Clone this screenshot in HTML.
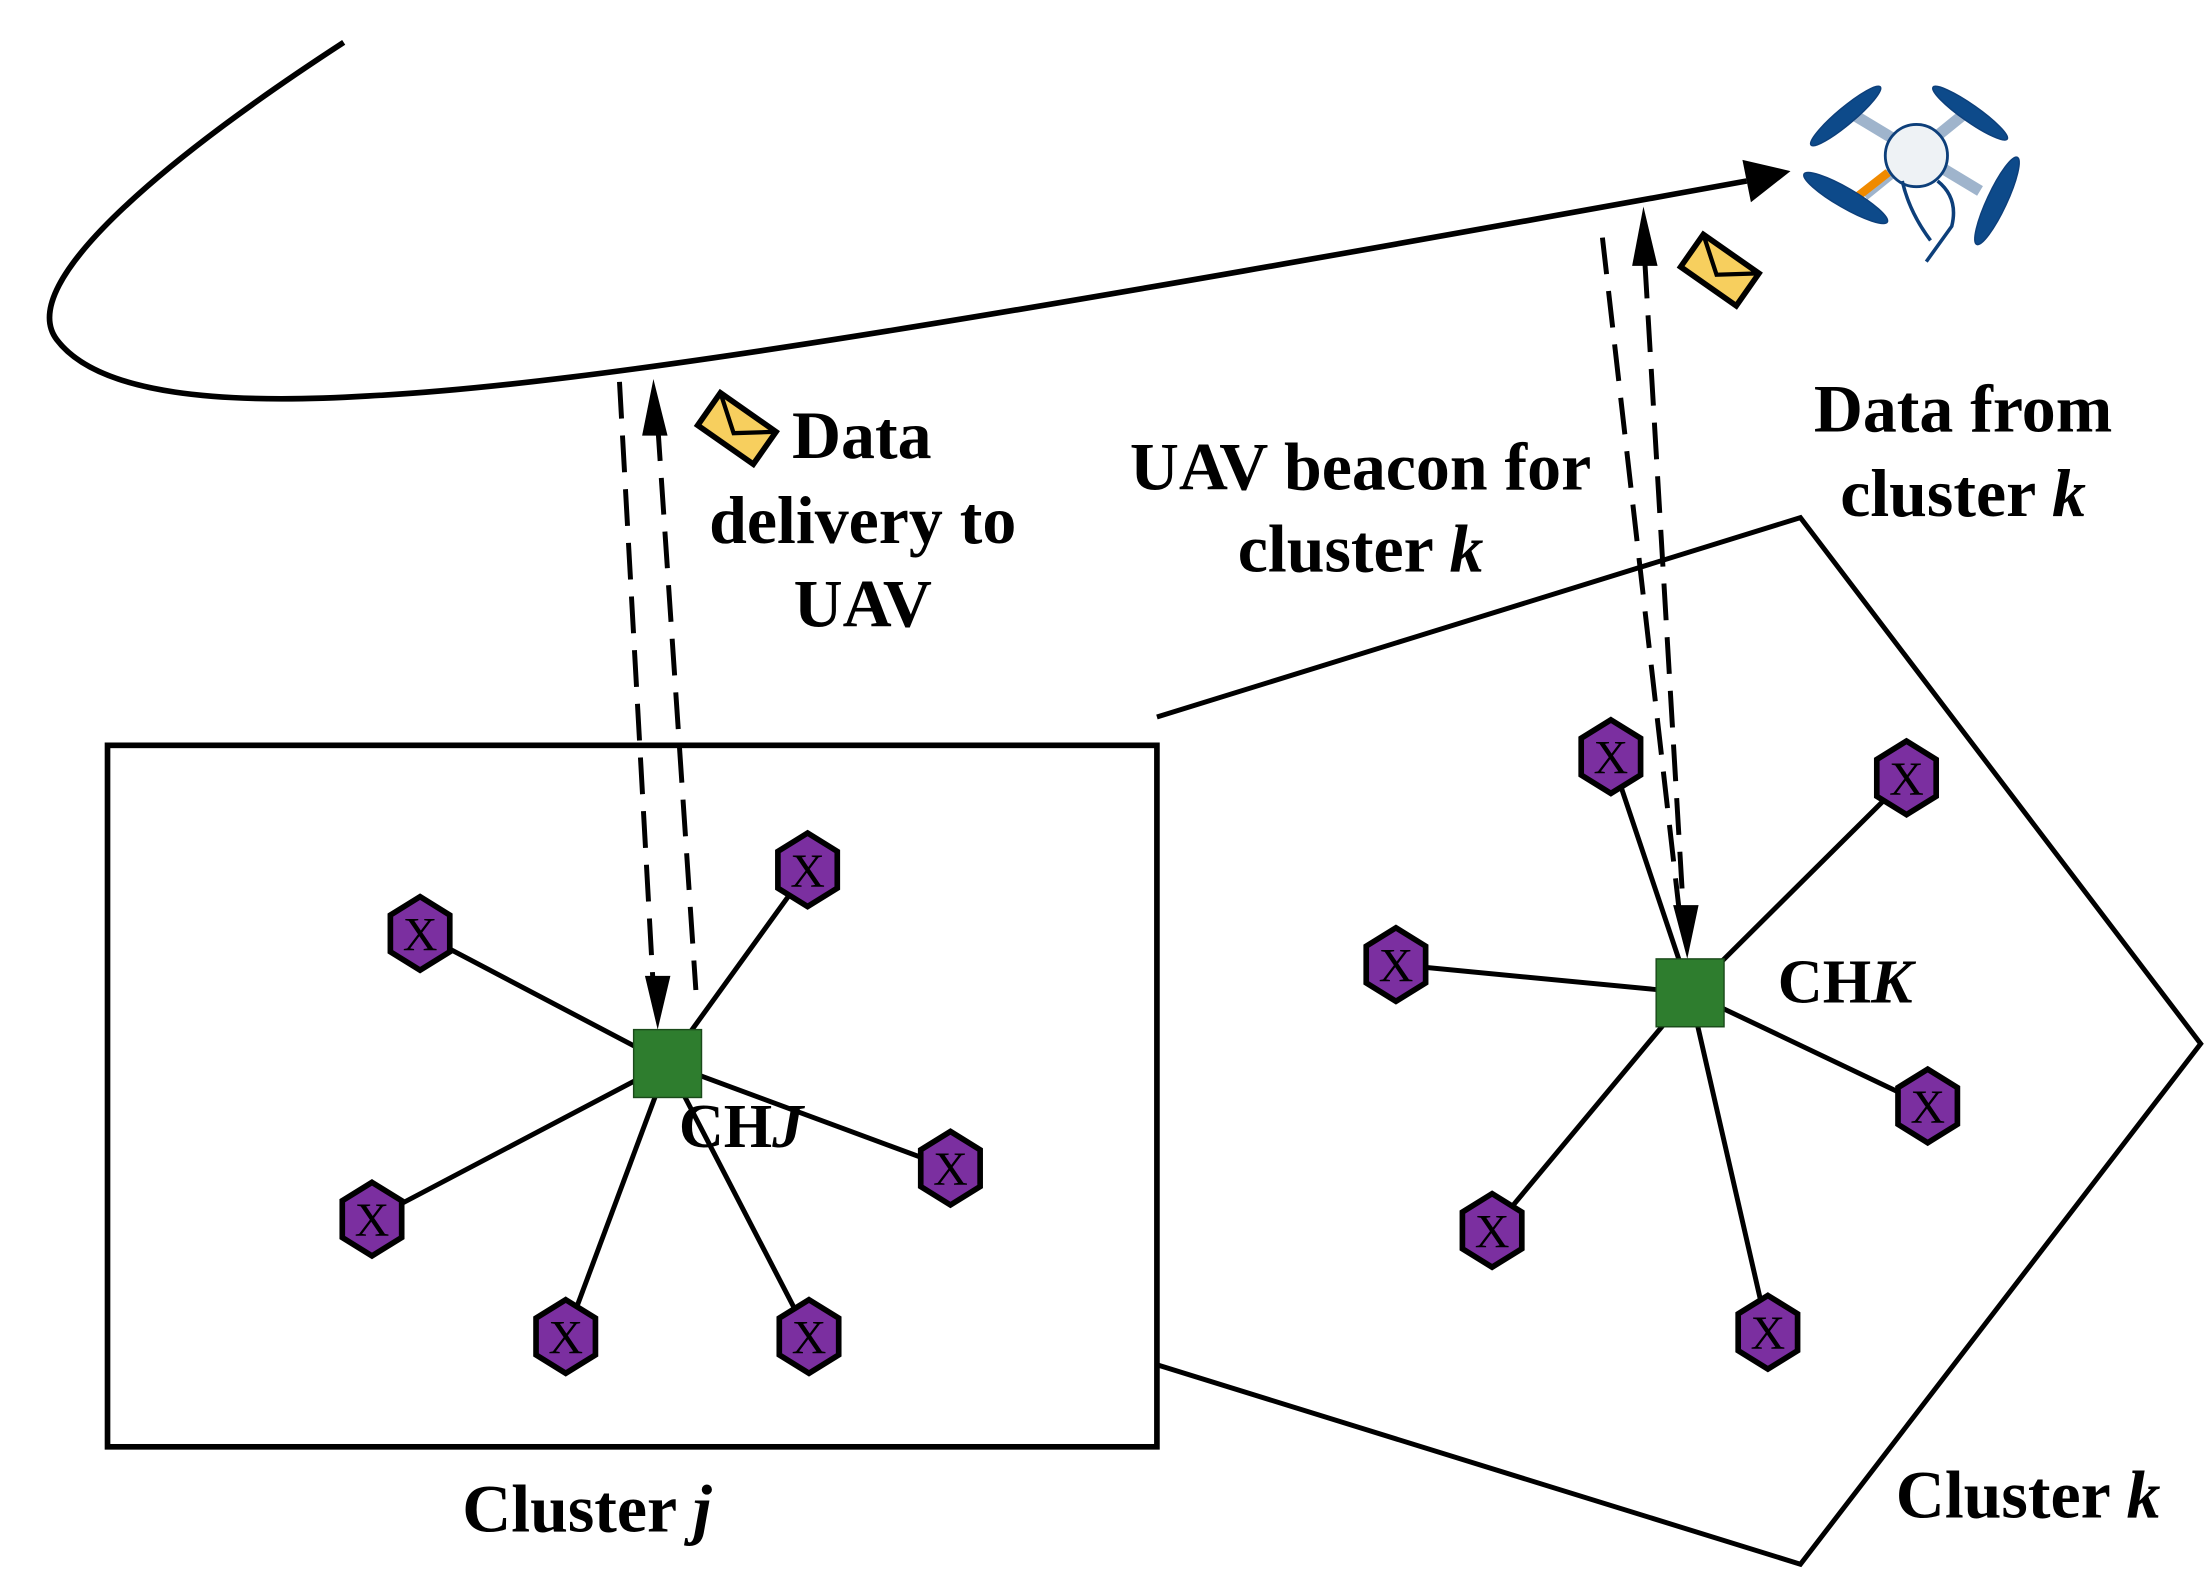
<!DOCTYPE html>
<html><head><meta charset="utf-8"><style>
html,body{margin:0;padding:0;background:#fff;}
svg{display:block;}
text{font-family:"Liberation Serif",serif;font-weight:bold;fill:#000;}
</style></head><body>
<svg width="2212" height="1584" viewBox="0 0 1564 1120" xmlns="http://www.w3.org/2000/svg">
<defs>
<g id="node">
<polygon points="0,-26 21,-13 21,13 0,26 -21,13 -21,-13" fill="#7b2fa0" stroke="#000" stroke-width="4"/>
<text x="0" y="12" text-anchor="middle" font-size="34" style="font-weight:normal">X</text>
</g>
<g id="env">
<rect x="-24" y="-14" width="48" height="28" fill="#f7cf5e" stroke="#000" stroke-width="4"/>
<polyline points="-24,-14 0,4 24,-14" fill="none" stroke="#000" stroke-width="3"/>
</g>
</defs>

<path d="M243,30 C120,110 10,200 40,240 C70,280 160,286 260,280 C420,272 700,225 1235,128" fill="none" stroke="#000" stroke-width="4"/>
<polygon points="1266,121 1232,113 1238,143" fill="#000"/>

<rect x="76" y="527" width="742" height="496" fill="none" stroke="#000" stroke-width="4"/>
<polyline points="818,507 1273,366 1556,738 1273,1106 818,965" fill="none" stroke="#000" stroke-width="3.5"/>

<g stroke="#000" stroke-width="3.5">
<line x1="472" y1="752" x2="297" y2="660"/>
<line x1="472" y1="752" x2="571" y2="615"/>
<line x1="472" y1="752" x2="672" y2="826"/>
<line x1="472" y1="752" x2="263" y2="862"/>
<line x1="472" y1="752" x2="400" y2="945"/>
<line x1="472" y1="752" x2="572" y2="945"/>
<line x1="1195" y1="702" x2="1139" y2="535"/>
<line x1="1195" y1="702" x2="1348" y2="550"/>
<line x1="1195" y1="702" x2="987" y2="682"/>
<line x1="1195" y1="702" x2="1363" y2="782"/>
<line x1="1195" y1="702" x2="1055" y2="870"/>
<line x1="1195" y1="702" x2="1250" y2="942"/>
</g>

<g stroke="#000" stroke-width="3.5" stroke-dasharray="26,12" fill="none">
<line x1="438" y1="270" x2="462" y2="700"/>
<line x1="465" y1="300" x2="492" y2="700"/>
<line x1="1133" y1="168" x2="1188" y2="650"/>
<line x1="1163" y1="185" x2="1190" y2="640"/>
</g>
<polygon points="462,268 454,308 472,308" fill="#000"/>
<polygon points="465,728 456,690 474,690" fill="#000"/>
<polygon points="1162,146 1154,188 1172,188" fill="#000"/>
<polygon points="1193,678 1183,640 1201,640" fill="#000"/>

<rect x="448" y="728" width="48" height="48" fill="#2e7d2e" stroke="#1a4a1a" stroke-width="1"/>
<rect x="1171" y="678" width="48" height="48" fill="#2e7d2e" stroke="#1a4a1a" stroke-width="1"/>

<use href="#node" x="297" y="660"/>
<use href="#node" x="571" y="615"/>
<use href="#node" x="672" y="826"/>
<use href="#node" x="263" y="862"/>
<use href="#node" x="400" y="945"/>
<use href="#node" x="572" y="945"/>
<use href="#node" x="1139" y="535"/>
<use href="#node" x="1348" y="550"/>
<use href="#node" x="987" y="682"/>
<use href="#node" x="1363" y="782"/>
<use href="#node" x="1055" y="870"/>
<use href="#node" x="1250" y="942"/>

<g transform="translate(521,303) rotate(35)"><use href="#env"/></g>
<g transform="translate(1216,191) rotate(35)"><use href="#env"/></g>

<!-- drone -->
<g stroke="#0d3f7a" fill="#0d4a8a">
<line x1="1312" y1="82" x2="1400" y2="135" stroke="#9fb4cc" stroke-width="8"/>
<line x1="1392" y1="78" x2="1318" y2="138" stroke="#9fb4cc" stroke-width="8"/>
<line x1="1335" y1="122" x2="1312" y2="140" stroke="#f08a00" stroke-width="6"/>
<ellipse cx="1305" cy="82" rx="32" ry="6" transform="rotate(-40 1305 82)"/>
<ellipse cx="1393" cy="80" rx="32" ry="6" transform="rotate(35 1393 80)"/>
<ellipse cx="1305" cy="140" rx="34" ry="7" transform="rotate(30 1305 140)"/>
<ellipse cx="1412" cy="142" rx="34" ry="7" transform="rotate(-65 1412 142)"/>
<circle cx="1355" cy="110" r="22" fill="#eef2f5" stroke="#0d3f7a" stroke-width="2"/>
<path d="M1345,128 Q1350,150 1365,170 M1370,128 Q1385,140 1380,160 L1362,185" stroke-width="2.5" fill="none"/>
</g>

<g font-size="48">
<text x="560" y="324">Data</text>
<text x="610" y="384" text-anchor="middle">delivery to</text>
<text x="610" y="443" text-anchor="middle">UAV</text>
<text x="962" y="346" text-anchor="middle">UAV beacon for</text>
<text x="962" y="404" text-anchor="middle">cluster <tspan font-style="italic">k</tspan></text>
<text x="1388" y="305" text-anchor="middle">Data from</text>
<text x="1388" y="365" text-anchor="middle">cluster <tspan font-style="italic">k</tspan></text>
<text x="415" y="1083" text-anchor="middle">Cluster <tspan font-style="italic">j</tspan></text>
<text x="1434" y="1073" text-anchor="middle">Cluster <tspan font-style="italic">k</tspan></text>
</g>
<g font-size="44">
<text x="480" y="811">CH<tspan font-style="italic">J</tspan></text>
<text x="1257" y="709">CH<tspan font-style="italic">K</tspan></text>
</g>
</svg>
</body></html>
